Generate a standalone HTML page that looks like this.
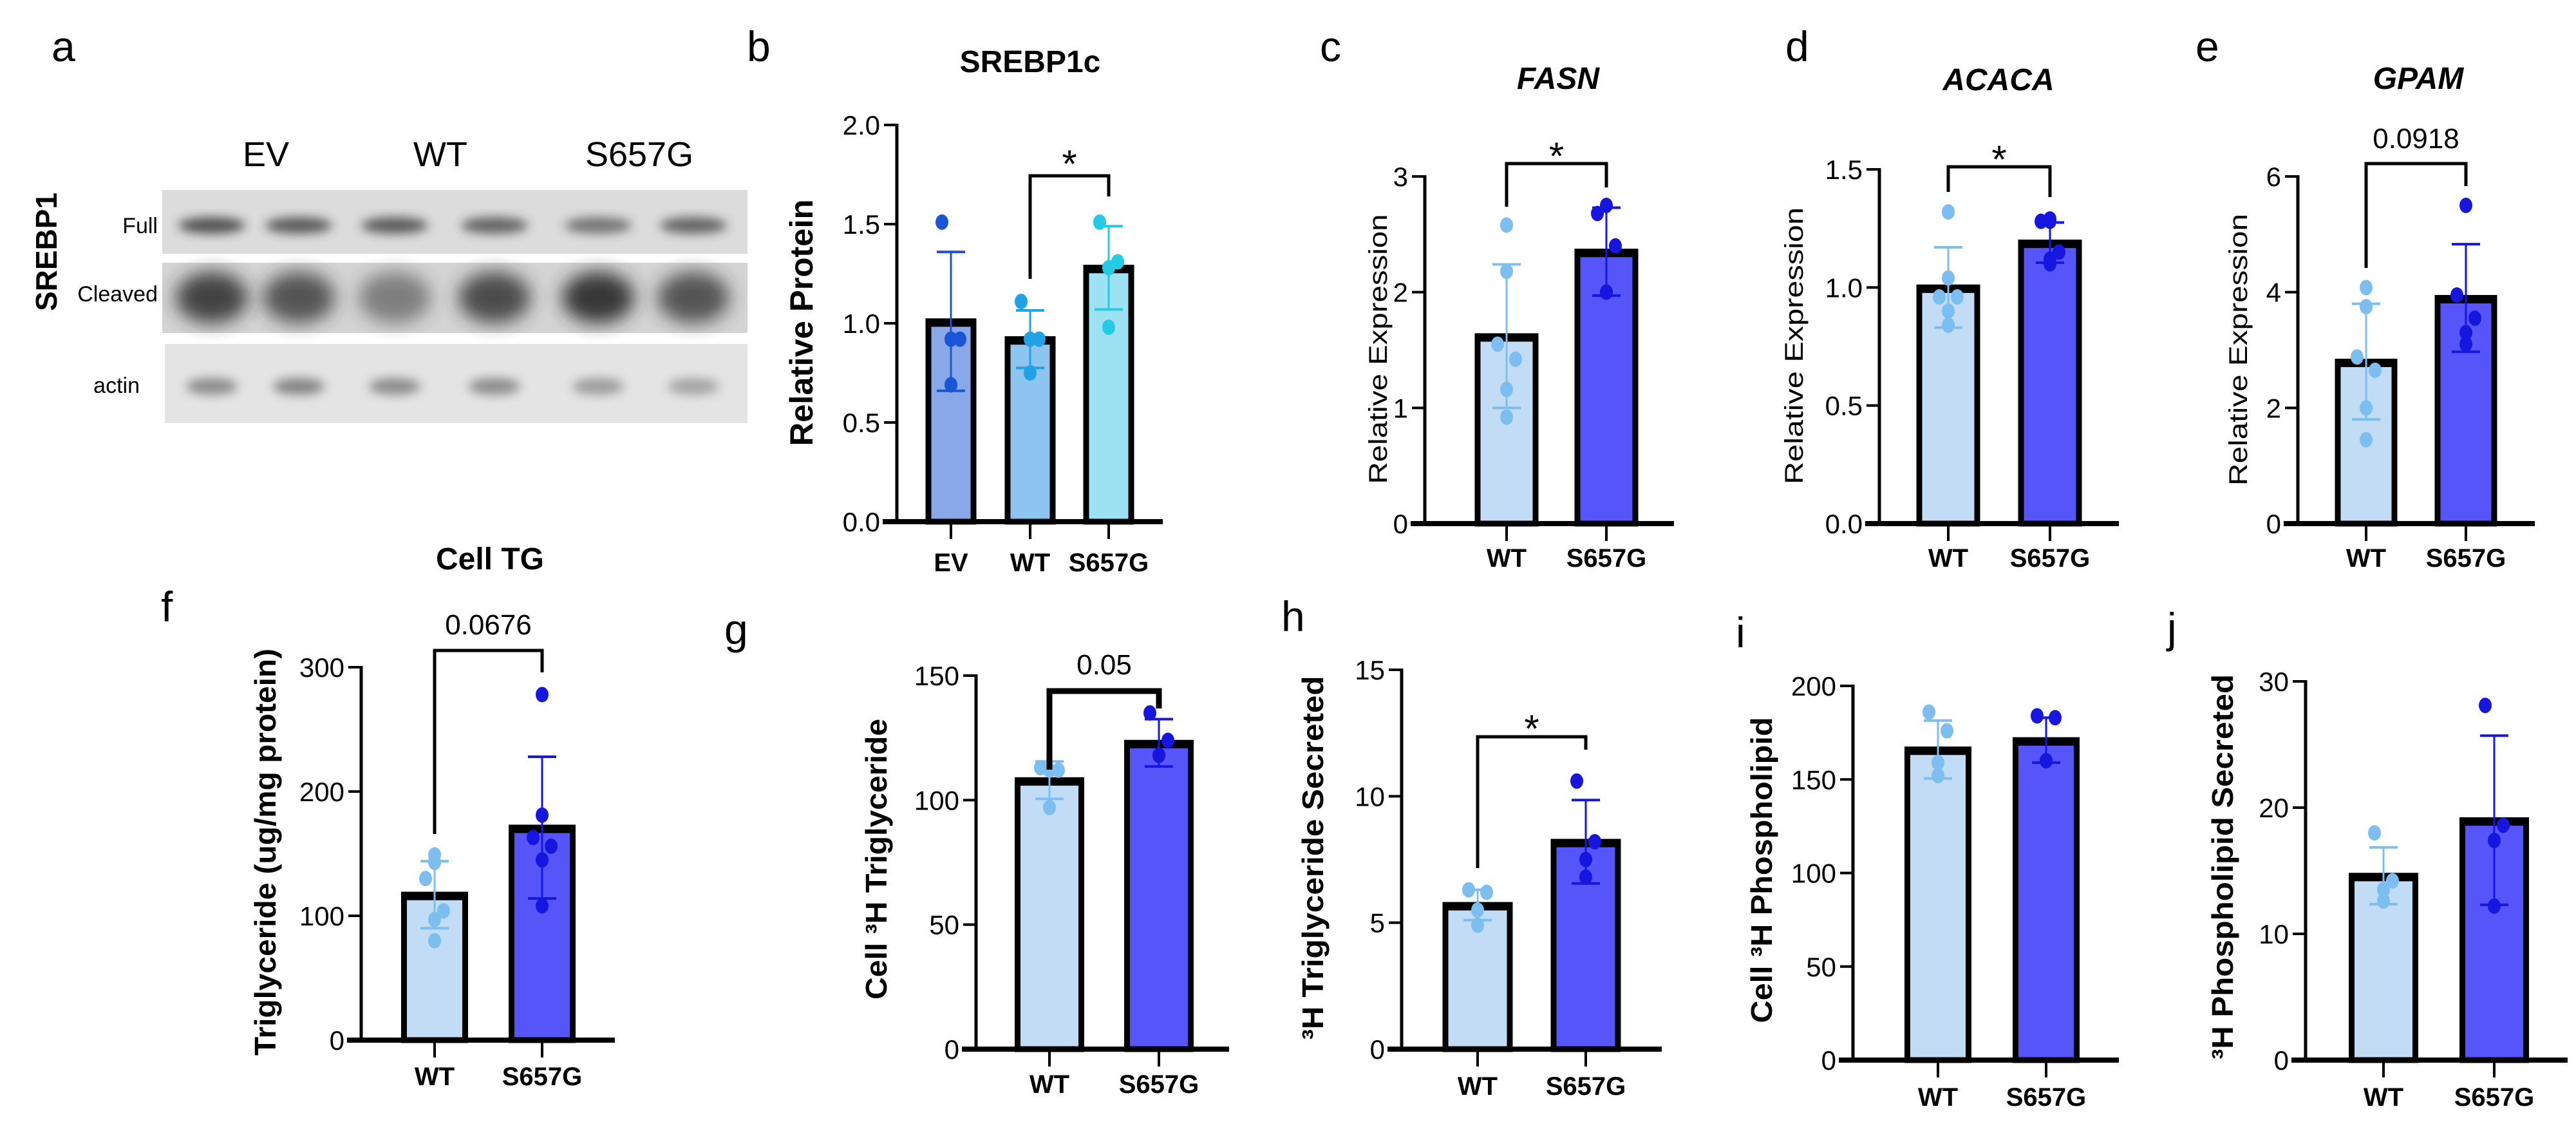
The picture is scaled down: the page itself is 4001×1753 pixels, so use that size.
<!DOCTYPE html>
<html><head><meta charset="utf-8">
<style>
html,body{margin:0;padding:0;background:#fff;}
svg{display:block;font-family:"Liberation Sans",sans-serif;}
</style></head>
<body>
<svg id="fig" width="4001" height="1753" viewBox="0 0 4001 1753" xmlns="http://www.w3.org/2000/svg">
<defs>
<filter id="blur8" x="-50%" y="-50%" width="200%" height="200%"><feGaussianBlur stdDeviation="8"/></filter>
<filter id="blur14" x="-50%" y="-50%" width="200%" height="200%"><feGaussianBlur stdDeviation="14"/></filter>
</defs>
<g>
  <text x="80" y="95" font-size="66">a</text>
  <text x="413" y="258" font-size="54" text-anchor="middle">EV</text>
  <text x="684" y="258" font-size="54" text-anchor="middle">WT</text>
  <text x="993" y="258" font-size="54" text-anchor="middle">S657G</text>
  <rect x="252" y="295" width="909" height="99" fill="#dcdcdc"/>
  <rect x="252" y="408" width="909" height="109" fill="#d4d4d4"/>
  <rect x="256" y="534" width="905" height="123" fill="#e4e4e4"/>
  <g id="bands"></g>
  <text x="245" y="362" font-size="34" text-anchor="end">Full</text>
  <text x="245" y="468" font-size="34" text-anchor="end">Cleaved</text>
  <text x="217" y="610" font-size="34" text-anchor="end">actin</text>
  <text transform="translate(88,391) rotate(-90)" font-size="46" font-weight="bold" text-anchor="middle">SREBP1</text>
</g>
<g id="charts"></g>
</svg>
<script>
// ---------- data ----------
const grpCats = ['WT','S657G'];
const bCats = ['EV','WT','S657G'];
const bMeans = [1.01,0.92,1.28];
const bSD = [0.35,0.145,0.21];
const bPts = [[1.51,0.92,0.92,0.69],[1.11,0.92,0.92,0.75],[1.51,1.31,1.28,0.98]];
const bTicks = [0,0.5,1.0,1.5,2.0];
const bTickLabels = ['0.0','0.5','1.0','1.5','2.0'];
const cMeans = [1.62,2.35];
const cSD = [0.62,0.38];
const cPts = [[2.58,2.18,1.55,1.42,1.16,0.92],[2.75,2.68,2.40,2.0,2.0]];
const cTicks = [0,1,2,3];
const cTickLabels = ['0','1','2','3'];
const dMeans = [1.0,1.19];
const dSD = [0.17,0.085];
const dPts = [[1.32,1.04,0.96,0.96,0.9,0.84],[1.29,1.28,1.28,1.15,1.12,1.1]];
const dTicks = [0,0.5,1.0,1.5];
const dTickLabels = ['0.0','0.5','1.0','1.5'];
const eMeans = [2.8,3.9];
const eSD = [1.0,0.93];
const ePts = [[4.08,3.75,2.88,2.65,2.0,1.45],[5.5,3.95,3.55,3.3,3.1]];
const eTicks = [0,2,4,6];
const eTickLabels = ['0','2','4','6'];
const fMeans = [117,171];
const fSD = [27,57];
const fPts = [[149,143,130,104,97,80],[278,181,163,156,145,108]];
const fTicks = [0,100,200,300];
const fTickLabels = ['0','100','200','300'];
const gMeans = [108,123];
const gSD = [7.5,9.5];
const gPts = [[113,112,112,97],[135,124,118,118]];
const gTicks = [0,50,100,150];
const gTickLabels = ['0','50','100','150'];
const hMeans = [5.7,8.2];
const hSD = [0.6,1.65];
const hPts = [[6.3,6.2,5.5,4.9],[10.6,8.2,7.5,6.8]];
const hTicks = [0,5,10,15];
const hTickLabels = ['0','5','10','15'];
const iMeans = [166,171];
const iSD = [15.5,12];
const iPts = [[186,176,159,152],[184,183,160,160]];
const iTicks = [0,50,100,150,200];
const iTickLabels = ['0','50','100','150','200'];
const jMeans = [14.6,19.0];
const jSD = [2.25,6.7];
const jPts = [[18.0,14.2,13.5,12.6],[28.1,18.6,17.4,12.2]];
const jTicks = [0,10,20,30];
const jTickLabels = ['0','10','20','30'];
const blotFull = [0.8,0.75,0.75,0.7,0.6,0.7];
const blotCleaved = [0.85,0.75,0.5,0.8,0.92,0.75];
const blotActin = [0.55,0.6,0.55,0.55,0.45,0.4];

// ---------- styles ----------
const WT_FILL='#c2dcf6', WT_DOT='#7cbef0';
const MUT_FILL='#5555fa', MUT_DOT='#1616e0';
const bFills=['#88a8e8','#8ec4f0','#9ce2f2'];
const bDots=['#1a55d8','#22a2e6','#22cbe6'];

const NS='http://www.w3.org/2000/svg';
function mk(parent, tag, attrs, txt){
  const el=document.createElementNS(NS,tag);
  for(const k in attrs) el.setAttribute(k,attrs[k]);
  if(txt!==undefined) el.textContent=txt;
  parent.appendChild(el);
  return el;
}

// ---------- blot bands ----------
const bandsG=document.getElementById('bands');
const laneX=[329,464,613,768,929,1077];
laneX.forEach((x,i)=>{
  let e1=mk(bandsG,'ellipse',{cx:x,cy:350,rx:52,ry:13,fill:'#333',opacity:blotFull[i],filter:'url(#blur8)'});
  
  
  let e2=mk(bandsG,'ellipse',{cx:x,cy:462,rx:56,ry:40,fill:'#2a2a2a',opacity:blotCleaved[i],filter:'url(#blur14)'});
  
  
  let e3=mk(bandsG,'ellipse',{cx:x,cy:600,rx:40,ry:13,fill:'#444',opacity:blotActin[i],filter:'url(#blur8)'});
  
  
});

// ---------- panels ----------
const panels=[
 {id:'b',cats:bCats,means:bMeans,sd:bSD,pts:bPts,ticks:bTicks,tl:bTickLabels,fills:bFills,dots:bDots,
  ax:1393,y0:810,yTop:194,vmax:2.0,xEnd:1806,cx:[1477,1600,1722],bw:78,xly:887,
  letter:[1160,95],title:'SREBP1c',titleXY:[1600,112],titleStyle:'bold',
  yl:{x:1262,y:501,len:383,txt:'Relative Protein',bold:true,fs:50},
  sig:{a:1,b:2,top:273,l1:433,l2:305,txt:'*',ty:250}},
 {id:'c',cats:grpCats,means:cMeans,sd:cSD,pts:cPts,ticks:cTicks,tl:cTickLabels,
  ax:2213,y0:813,yTop:274,vmax:3,xEnd:2600,cx:[2340,2495],bw:98,xly:880,
  letter:[2050,95],title:'FASN',titleXY:[2420,138],titleStyle:'italic',
  yl:{x:2154,y:542,len:419,txt:'Relative Expression',bold:false,fs:40},
  sig:{a:0,b:1,top:254,l1:321,l2:291,txt:'*',ty:238}},
 {id:'d',cats:grpCats,means:dMeans,sd:dSD,pts:dPts,ticks:dTicks,tl:dTickLabels,
  ax:2919,y0:813,yTop:263,vmax:1.5,xEnd:3291,cx:[3026,3184],bw:98,xly:880,
  letter:[2773,95],title:'ACACA',titleXY:[3104,140],titleStyle:'italic',
  yl:{x:2800,y:537,len:430,txt:'Relative Expression',bold:false,fs:40},
  sig:{a:0,b:1,top:259,l1:298,l2:306,txt:'*',ty:243}},
 {id:'e',cats:grpCats,means:eMeans,sd:eSD,pts:ePts,ticks:eTicks,tl:eTickLabels,
  ax:3569,y0:813,yTop:274,vmax:6,xEnd:3937,cx:[3675,3830],bw:96,xly:880,
  letter:[3410,95],title:'GPAM',titleXY:[3756,138],titleStyle:'italic',
  yl:{x:3490,y:543,len:422,txt:'Relative Expression',bold:false,fs:40},
  sig:{a:0,b:1,top:254,l1:416,l2:289,txt:'0.0918',ty:230}},
 {id:'f',cats:grpCats,means:fMeans,sd:fSD,pts:fPts,ticks:fTicks,tl:fTickLabels,
  ax:561,y0:1615,yTop:1036,vmax:300,xEnd:955,cx:[675,842],bw:103,xly:1685,
  letter:[250,965],title:'Cell TG',titleXY:[761,884],titleStyle:'bold',
  yl:{x:428,y:1323,len:632,txt:'Triglyceride (ug/mg protein)',bold:true,fs:46},
  sig:{a:0,b:1,top:1010,l1:1295,l2:1044,txt:'0.0676',ty:985}},
 {id:'g',cats:grpCats,means:gMeans,sd:gSD,pts:gPts,ticks:gTicks,tl:gTickLabels,
  ax:1516,y0:1629,yTop:1049,vmax:150,xEnd:1909,cx:[1630,1800],bw:107,xly:1697,
  letter:[1125,1000],
  yl:{x:1377,y:1334,len:436,txt:'Cell ³H Triglyceride',bold:true,fs:46},
  sig:{a:0,b:1,top:1073,l1:1195,l2:1100,txt:'0.05',ty:1047,thick:true}},
 {id:'h',cats:grpCats,means:hMeans,sd:hSD,pts:hPts,ticks:hTicks,tl:hTickLabels,
  ax:2177,y0:1629,yTop:1040,vmax:15,xEnd:2581,cx:[2295,2463],bw:108,xly:1700,
  letter:[1990,980],
  yl:{x:2055,y:1332,len:565,txt:'³H Triglyceride Secreted',bold:true,fs:46},
  sig:{a:0,b:1,top:1144,l1:1348,l2:1164,txt:'*',ty:1127}},
 {id:'i',cats:grpCats,means:iMeans,sd:iSD,pts:iPts,ticks:iTicks,tl:iTickLabels,
  ax:2878,y0:1646,yTop:1065,vmax:200,xEnd:3291,cx:[3010,3178],bw:103,xly:1717,
  letter:[2696,1005],
  yl:{x:2752,y:1351,len:475,txt:'Cell ³H Phospholipid',bold:true,fs:46}},
 {id:'j',cats:grpCats,means:jMeans,sd:jSD,pts:jPts,ticks:jTicks,tl:jTickLabels,
  ax:3581,y0:1646,yTop:1058,vmax:30,xEnd:3988,cx:[3702,3874],bw:107,xly:1717,
  letter:[3366,998],
  yl:{x:3468,y:1346,len:598,txt:'³H Phospholipid Secreted',bold:true,fs:46}}
];
const jitter=[[0],[-14,14],[0,-14,14],[-14,14,0,0],[0,-14,14,0,0],[0,0,-14,14,0,0]];
const charts=document.getElementById('charts');
panels.forEach(p=>{
  const g=mk(charts,'g',{});
  
  
  const Y=v=>p.y0-(v/p.vmax)*(p.y0-p.yTop);
  // letter
  const L=mk(g,'text',{x:p.letter[0],y:p.letter[1],'font-size':66},p.id);
  
  
  if(p.title){
    const t=mk(g,'text',{x:p.titleXY[0],y:p.titleXY[1],'font-size':48,'font-weight':'bold','text-anchor':'middle','font-style':p.titleStyle==='italic'?'italic':'normal'},p.title);
    
    
  }
  // y label
  const yl=mk(g,'text',{transform:`translate(${p.yl.x},${p.yl.y}) rotate(-90)`,'font-size':p.yl.fs,'font-weight':p.yl.bold?'bold':'normal','text-anchor':'middle',textLength:p.yl.len,lengthAdjust:'spacingAndGlyphs'},p.yl.txt);
  
  
  // bars
  p.means.forEach((m,k)=>{
    const fill=p.fills?p.fills[k]:(k===0?WT_FILL:MUT_FILL);
    const dot=p.dots?p.dots[k]:(k===0?WT_DOT:MUT_DOT);
    const r=mk(g,'rect',{x:p.cx[k]-p.bw/2+4,y:Y(m),width:p.bw-8,height:p.y0-Y(m),fill:fill,stroke:'#000','stroke-width':9});
    
    
    const top=mk(g,'line',{x1:p.cx[k]-p.bw/2,x2:p.cx[k]+p.bw/2,y1:Y(m)+2,y2:Y(m)+2,stroke:'#000','stroke-width':13});
    
    
    // error bar
    const hi=Y(m+p.sd[k]), lo=Y(m-p.sd[k]);
    const ev=mk(g,'line',{x1:p.cx[k],x2:p.cx[k],y1:hi,y2:lo,stroke:dot,'stroke-width':3});
    
    
    [hi,lo].forEach(yy=>{
      const c=mk(g,'line',{x1:p.cx[k]-22,x2:p.cx[k]+22,y1:yy,y2:yy,stroke:dot,'stroke-width':4});
      
      
    });
    // points
    const pts=p.pts[k], jit=jitter[pts.length-1]||jitter[3];
    pts.forEach((v,n)=>{
      const pt=mk(g,'ellipse',{cx:p.cx[k]+(jit[n]||0),cy:Y(v),rx:10,ry:12,fill:dot});
      
      
    });
    // x tick & label
    const xt=mk(g,'line',{x1:p.cx[k],x2:p.cx[k],y1:p.y0,y2:p.y0+27,stroke:'#000','stroke-width':4});
    
    
    const xl=mk(g,'text',{x:p.cx[k],y:p.xly,'font-size':40,'font-weight':'bold','text-anchor':'middle'},p.cats[k]);
    
    
  });
  // axes
  const ya=mk(g,'line',{x1:p.ax,x2:p.ax,y1:p.yTop-2,y2:p.y0,stroke:'#000','stroke-width':5});
  
  
  const xa=mk(g,'line',{x1:p.ax-22,x2:p.xEnd,y1:p.y0,y2:p.y0,stroke:'#000','stroke-width':8});
  
  
  p.ticks.forEach((t,n)=>{
    const tk=mk(g,'line',{x1:p.ax-20,x2:p.ax,y1:Y(t),y2:Y(t),stroke:'#000','stroke-width':4});
    
    
    const tl=mk(g,'text',{x:p.ax-26,y:Y(t)+15,'font-size':42,'text-anchor':'end'},p.tl[n]);
    
    
  });
  if(p.sig){
    const s=p.sig, x1=p.cx[s.a], x2=p.cx[s.b];
    const br=mk(g,'path',{d:`M${x1},${s.l1} V${s.top} H${x2} V${s.l2}`,fill:'none',stroke:'#000','stroke-width':s.thick?9:5});
    
    
    const st=mk(g,'text',{x:(x1+x2)/2,y:s.txt==='*'?s.ty+25:s.ty,'font-size':s.txt==='*'?60:44,'text-anchor':'middle'},s.txt);
    
    
  }
});
</script>
</body></html>
